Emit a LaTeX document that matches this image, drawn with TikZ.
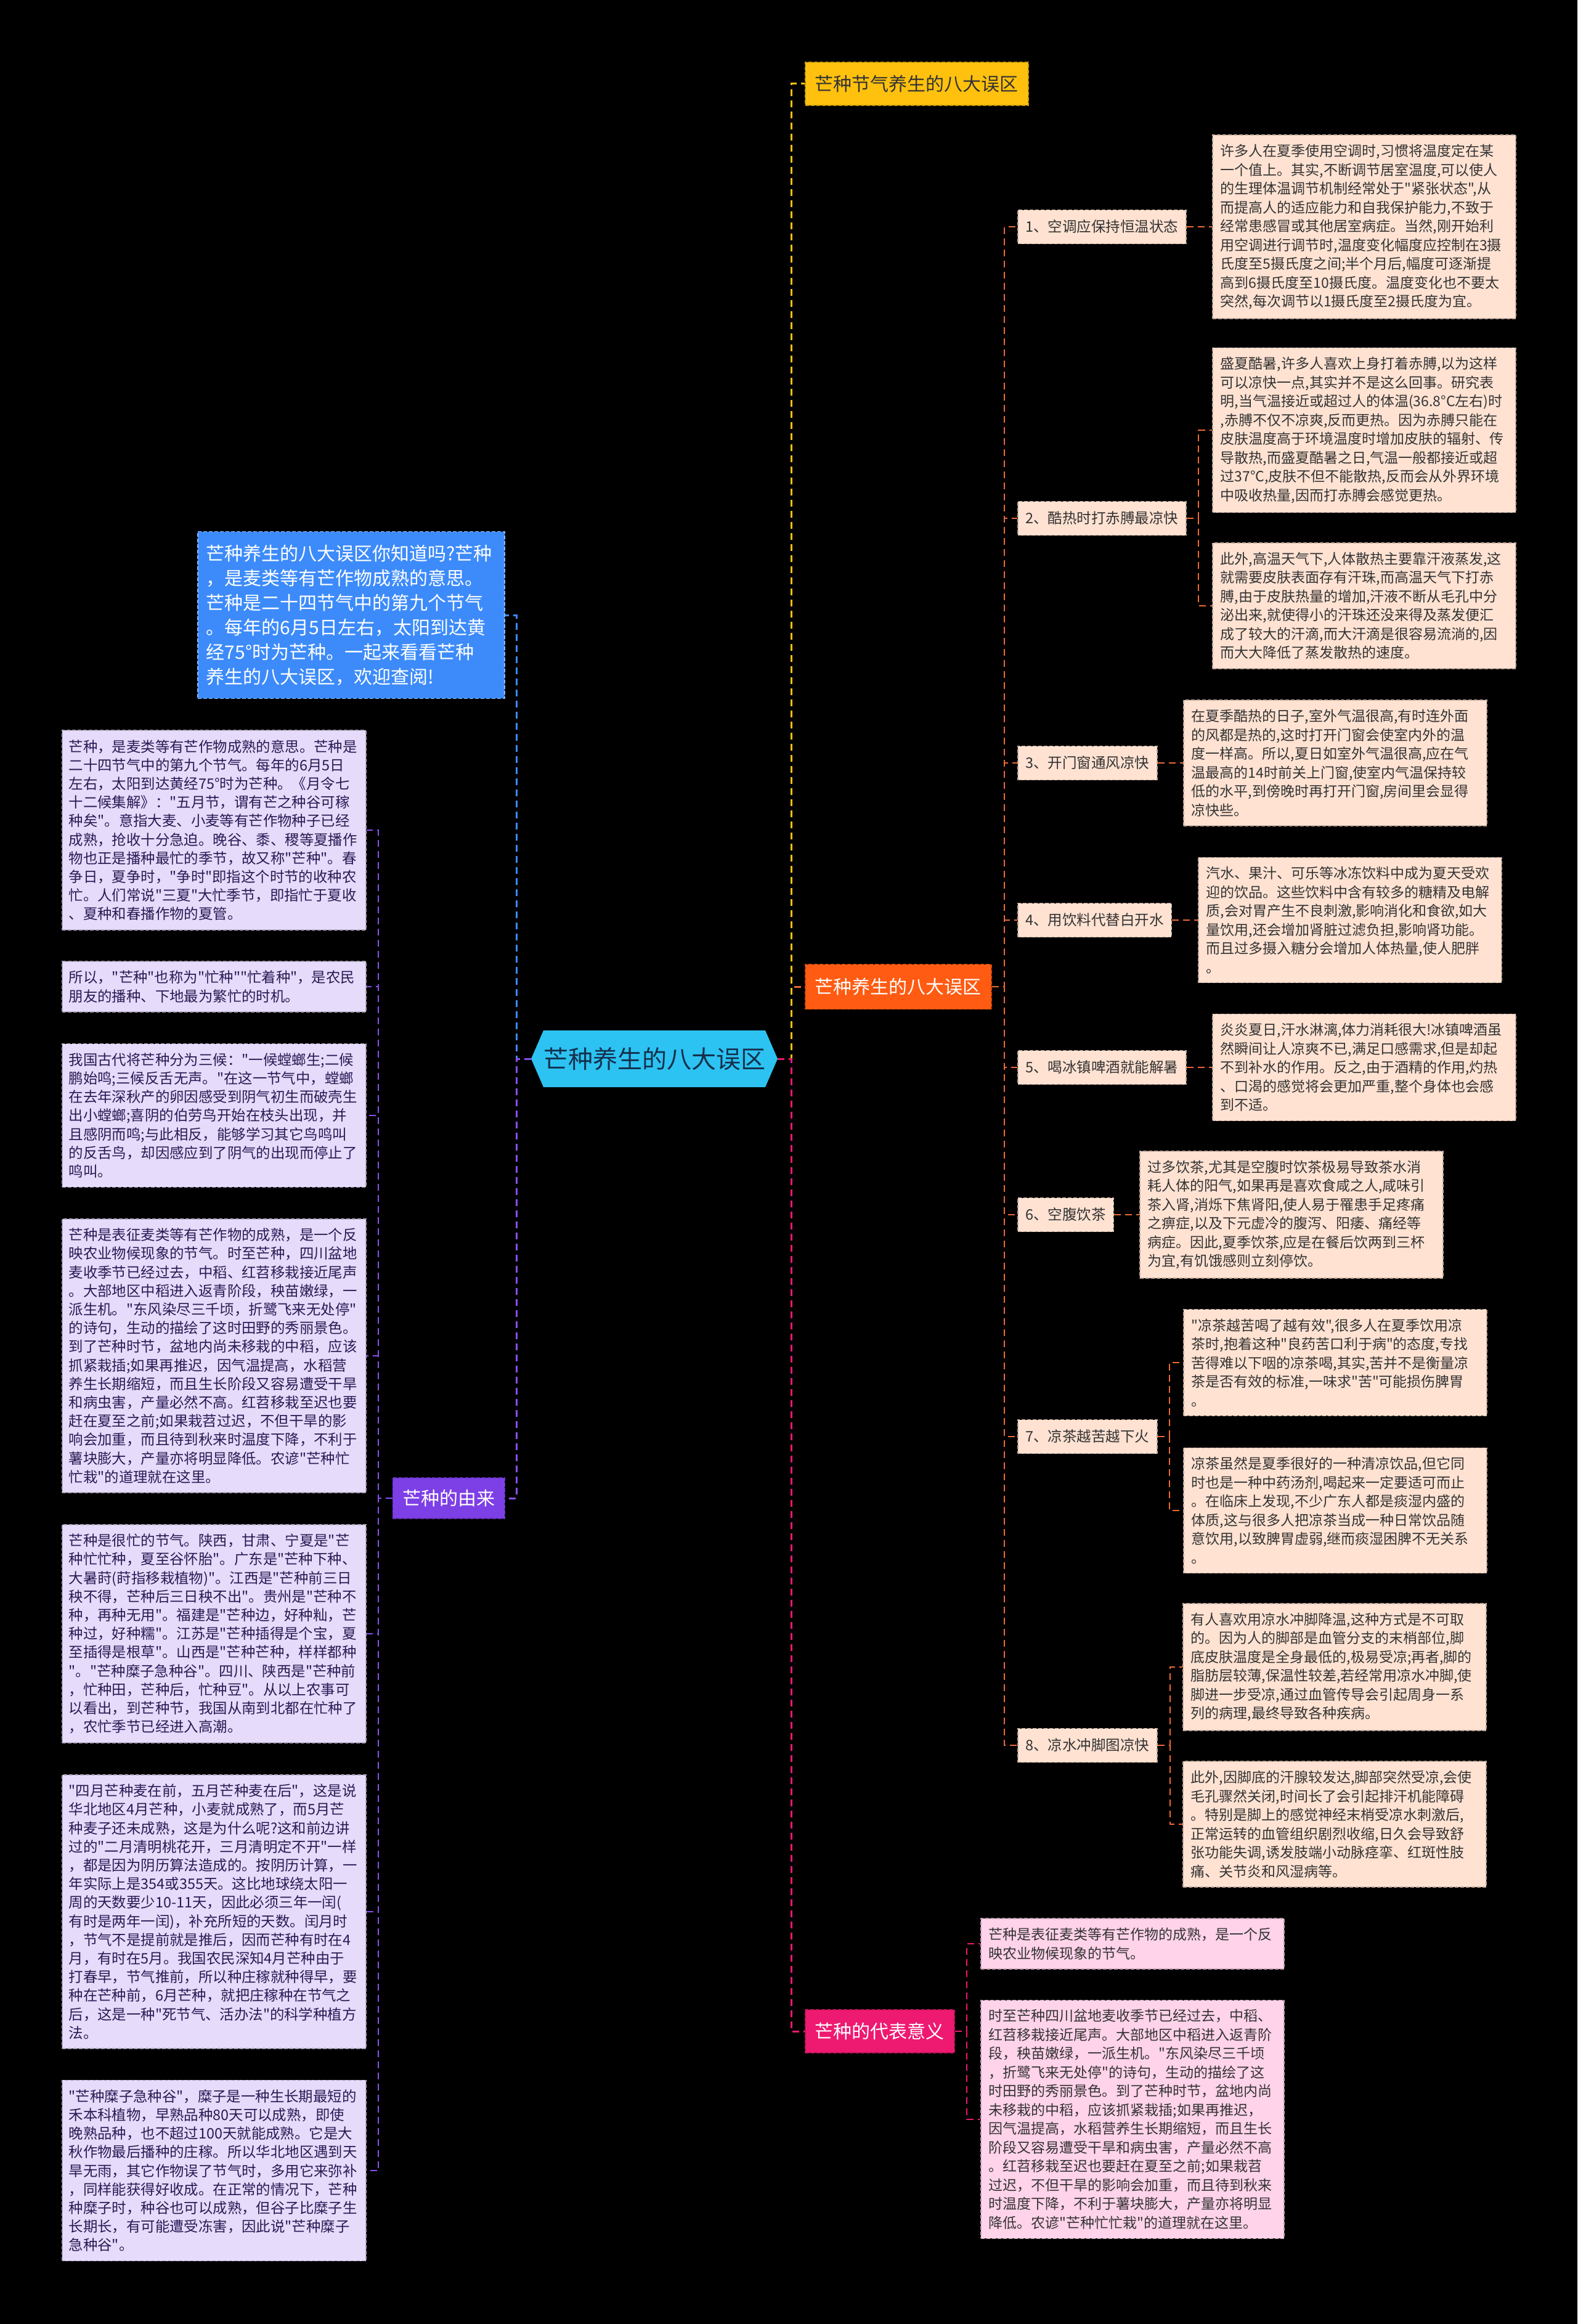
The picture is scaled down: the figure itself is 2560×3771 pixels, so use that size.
\documentclass[tikz,border=0pt]{standalone}
\usepackage{fontspec}
\setmainfont{Noto Sans CJK SC}[Ligatures=TeXOff]
\usetikzlibrary{calc}
\definecolor{bg}{HTML}{000000}
\definecolor{cyanc}{HTML}{2CC3F2}
\definecolor{ctext}{HTML}{14304D}
\definecolor{yel}{HTML}{FFC10E}
\definecolor{orn}{HTML}{FF5B12}
\definecolor{ornl}{HTML}{EE6A32}
\definecolor{pnk}{HTML}{EE1970}
\definecolor{pnkl}{HTML}{FFD3EA}
\definecolor{pch}{HTML}{FFE2D2}
\definecolor{lav}{HTML}{E6DBFA}
\definecolor{pur}{HTML}{7D3FE6}
\definecolor{purl}{HTML}{8A4FF0}
\definecolor{blu}{HTML}{3D8BFA}
\definecolor{rtext}{HTML}{333333}
\definecolor{ltext}{HTML}{2A1A55}
\tikzset{
  conn/.style={line width=3pt, dash pattern=on 11pt off 7pt},
  subconn/.style={line width=2.5pt, dash pattern=on 11pt off 7pt},
  boxborder/.style={line width=1.5pt, dash pattern=on 6pt off 3pt},
  mainnode/.style={anchor=west, inner xsep=16pt, inner ysep=0pt, minimum height=70pt, font=\fontsize{30}{36}\selectfont, boxborder},
  itembox/.style={anchor=west, fill=pch, draw=pch!75!black, boxborder, inner xsep=12.5pt, inner ysep=0pt, minimum height=55pt, text=rtext, font=\fontsize{23.5}{28}\selectfont},
  rdetail/.style={anchor=west, fill=pch, draw=pch!75!black, boxborder, text width=466pt, inner xsep=13pt, inner ysep=15pt, align=left, text=rtext, font=\fontsize{23}{30.5}\selectfont},
  pdetail/.style={rdetail, fill=pnkl, draw=pnkl!75!black},
  ldetail/.style={anchor=west, fill=lav, draw=lav!75!black, boxborder, text width=471pt, inner xsep=11pt, inner ysep=15pt, align=left, text=ltext, font=\fontsize{23.4}{30.2}\selectfont},
}
\begin{document}
\begin{tikzpicture}[x=1pt,y=-1pt]
\fill[bg] (0,0) rectangle (2560,3771);
\useasboundingbox (0,0) rectangle (2560,3771);

% ---------- center ----------
\fill[cyanc] (862,1718) -- (882,1672) -- (1242,1672) -- (1262,1718) -- (1242,1764) -- (882,1764) -- cycle;
\node[inner sep=0pt, minimum width=400pt, minimum height=92pt, text=ctext, font=\fontsize{40}{48}\selectfont] (center) at (1062,1718) {芒种养生的八大误区};

% ---------- main branches ----------
\node[mainnode, fill=yel, draw=yel!80!black, text=rtext] (hdr) at (1306,136) {芒种节气养生的八大误区};
\node[mainnode, fill=orn, draw=orn!80!black, text=white, minimum height=73pt] (orange) at (1306,1601) {芒种养生的八大误区};
\node[mainnode, fill=pnk, draw=pnk!80!black, text=white] (pinkn) at (1306,3296) {芒种的代表意义};
\node[mainnode, fill=pur, draw=pur!80!black, text=white, minimum height=66pt, anchor=east] (purn) at (820,2431) {芒种的由来};
\node[anchor=west, fill=blu, draw=blu!60!white, boxborder, text width=470pt, inner xsep=14pt, inner ysep=21pt, align=left, text=white, font=\fontsize{30}{40}\selectfont] (blue) at (320,998) {芒种养生的八大误区你知道吗?芒种\\，是麦类等有芒作物成熟的意思。\\芒种是二十四节气中的第九个节气\\。每年的6月5日左右，太阳到达黄\\经75°时为芒种。一起来看看芒种\\养生的八大误区，欢迎查阅!};

% ---------- items ----------
\node[itembox] (i1) at (1651,368) {1、空调应保持恒温状态};
\node[itembox] (i2) at (1651,841) {2、酷热时打赤膊最凉快};
\node[itembox] (i3) at (1651,1238) {3、开门窗通风凉快};
\node[itembox] (i4) at (1651,1493) {4、用饮料代替白开水};
\node[itembox] (i5) at (1651,1732) {5、喝冰镇啤酒就能解暑};
\node[itembox] (i6) at (1651,1971) {6、空腹饮茶};
\node[itembox] (i7) at (1651,2331) {7、凉茶越苦越下火};
\node[itembox] (i8) at (1651,2832) {8、凉水冲脚图凉快};

% ---------- right details ----------
\node[rdetail] (d1) at (1967,368) {许多人在夏季使用空调时,习惯将温度定在某\\一个值上。其实,不断调节居室温度,可以使人\\的生理体温调节机制经常处于"紧张状态",从\\而提高人的适应能力和自我保护能力,不致于\\经常患感冒或其他居室病症。当然,刚开始利\\用空调进行调节时,温度变化幅度应控制在3摄\\氏度至5摄氏度之间;半个月后,幅度可逐渐提\\高到6摄氏度至10摄氏度。温度变化也不要太\\突然,每次调节以1摄氏度至2摄氏度为宜。};
\node[rdetail] (d2a) at (1967,698) {盛夏酷暑,许多人喜欢上身打着赤膊,以为这样\\可以凉快一点,其实并不是这么回事。研究表\\明,当气温接近或超过人的体温(36.8°C左右)时\\,赤膊不仅不凉爽,反而更热。因为赤膊只能在\\皮肤温度高于环境温度时增加皮肤的辐射、传\\导散热,而盛夏酷暑之日,气温一般都接近或超\\过37°C,皮肤不但不能散热,反而会从外界环境\\中吸收热量,因而打赤膊会感觉更热。};
\node[rdetail] (d2b) at (1967,983) {此外,高温天气下,人体散热主要靠汗液蒸发,这\\就需要皮肤表面存有汗珠,而高温天气下打赤\\膊,由于皮肤热量的增加,汗液不断从毛孔中分\\泌出来,就使得小的汗珠还没来得及蒸发便汇\\成了较大的汗滴,而大汗滴是很容易流淌的,因\\而大大降低了蒸发散热的速度。};
\node[rdetail] (d3) at (1920,1238) {在夏季酷热的日子,室外气温很高,有时连外面\\的风都是热的,这时打开门窗会使室内外的温\\度一样高。所以,夏日如室外气温很高,应在气\\温最高的14时前关上门窗,使室内气温保持较\\低的水平,到傍晚时再打开门窗,房间里会显得\\凉快些。};
\node[rdetail] (d4) at (1944,1493) {汽水、果汁、可乐等冰冻饮料中成为夏天受欢\\迎的饮品。这些饮料中含有较多的糖精及电解\\质,会对胃产生不良刺激,影响消化和食欲,如大\\量饮用,还会增加肾脏过滤负担,影响肾功能。\\而且过多摄入糖分会增加人体热量,使人肥胖\\。};
\node[rdetail] (d5) at (1967,1732) {炎炎夏日,汗水淋漓,体力消耗很大!冰镇啤酒虽\\然瞬间让人凉爽不已,满足口感需求,但是却起\\不到补水的作用。反之,由于酒精的作用,灼热\\、口渴的感觉将会更加严重,整个身体也会感\\到不适。};
\node[rdetail] (d6) at (1849,1971) {过多饮茶,尤其是空腹时饮茶极易导致茶水消\\耗人体的阳气,如果再是喜欢食咸之人,咸味引\\茶入肾,消烁下焦肾阳,使人易于罹患手足疼痛\\之痹症,以及下元虚冷的腹泻、阳痿、痛经等\\病症。因此,夏季饮茶,应是在餐后饮两到三杯\\为宜,有饥饿感则立刻停饮。};
\node[rdetail] (d7a) at (1920,2211) {"凉茶越苦喝了越有效",很多人在夏季饮用凉\\茶时,抱着这种"良药苦口利于病"的态度,专找\\苦得难以下咽的凉茶喝,其实,苦并不是衡量凉\\茶是否有效的标准,一味求"苦"可能损伤脾胃\\。};
\node[rdetail] (d7b) at (1920,2451) {凉茶虽然是夏季很好的一种清凉饮品,但它同\\时也是一种中药汤剂,喝起来一定要适可而止\\。在临床上发现,不少广东人都是痰湿内盛的\\体质,这与很多人把凉茶当成一种日常饮品随\\意饮用,以致脾胃虚弱,继而痰湿困脾不无关系\\。};
\node[rdetail] (d8a) at (1919,2705) {有人喜欢用凉水冲脚降温,这种方式是不可取\\的。因为人的脚部是血管分支的末梢部位,脚\\底皮肤温度是全身最低的,极易受凉;再者,脚的\\脂肪层较薄,保温性较差,若经常用凉水冲脚,使\\脚进一步受凉,通过血管传导会引起周身一系\\列的病理,最终导致各种疾病。};
\node[rdetail] (d8b) at (1919,2960) {此外,因脚底的汗腺较发达,脚部突然受凉,会使\\毛孔骤然关闭,时间长了会引起排汗机能障碍\\。特别是脚上的感觉神经末梢受凉水刺激后,\\正常运转的血管组织剧烈收缩,日久会导致舒\\张功能失调,诱发肢端小动脉痉挛、红斑性肢\\痛、关节炎和风湿病等。};

% ---------- pink details ----------
\node[pdetail] (p1) at (1591,3154) {芒种是表征麦类等有芒作物的成熟，是一个反\\映农业物候现象的节气。};
\node[pdetail] (p2) at (1591,3439) {时至芒种四川盆地麦收季节已经过去，中稻、\\红苕移栽接近尾声。大部地区中稻进入返青阶\\段，秧苗嫩绿，一派生机。"东风染尽三千顷\\，折鹭飞来无处停"的诗句，生动的描绘了这\\时田野的秀丽景色。到了芒种时节，盆地内尚\\未移栽的中稻，应该抓紧栽插;如果再推迟，\\因气温提高，水稻营养生长期缩短，而且生长\\阶段又容易遭受干旱和病虫害，产量必然不高\\。红苕移栽至迟也要赶在夏至之前;如果栽苕\\过迟，不但干旱的影响会加重，而且待到秋来\\时温度下降，不利于薯块膨大，产量亦将明显\\降低。农谚"芒种忙忙栽"的道理就在这里。};

% ---------- left details ----------
\node[ldetail] (l1) at (100,1347) {芒种，是麦类等有芒作物成熟的意思。芒种是\\二十四节气中的第九个节气。每年的6月5日\\左右，太阳到达黄经75°时为芒种。《月令七\\十二候集解》："五月节，谓有芒之种谷可稼\\种矣"。意指大麦、小麦等有芒作物种子已经\\成熟，抢收十分急迫。晚谷、黍、稷等夏播作\\物也正是播种最忙的季节，故又称"芒种"。春\\争日，夏争时，"争时"即指这个时节的收种农\\忙。人们常说"三夏"大忙季节，即指忙于夏收\\、夏种和春播作物的夏管。};
\node[ldetail] (l2) at (100,1601) {所以，"芒种"也称为"忙种""忙着种"，是农民\\朋友的播种、下地最为繁忙的时机。};
\node[ldetail] (l3) at (100,1810) {我国古代将芒种分为三候："一候螳螂生;二候\\鹏始鸣;三候反舌无声。"在这一节气中，螳螂\\在去年深秋产的卵因感受到阴气初生而破壳生\\出小螳螂;喜阴的伯劳鸟开始在枝头出现，并\\且感阴而鸣;与此相反，能够学习其它鸟鸣叫\\的反舌鸟，却因感应到了阴气的出现而停止了\\鸣叫。};
\node[ldetail] (l4) at (100,2200) {芒种是表征麦类等有芒作物的成熟，是一个反\\映农业物候现象的节气。时至芒种，四川盆地\\麦收季节已经过去，中稻、红苕移栽接近尾声\\。大部地区中稻进入返青阶段，秧苗嫩绿，一\\派生机。"东风染尽三千顷，折鹭飞来无处停"\\的诗句，生动的描绘了这时田野的秀丽景色。\\到了芒种时节，盆地内尚未移栽的中稻，应该\\抓紧栽插;如果再推迟，因气温提高，水稻营\\养生长期缩短，而且生长阶段又容易遭受干旱\\和病虫害，产量必然不高。红苕移栽至迟也要\\赶在夏至之前;如果栽苕过迟，不但干旱的影\\响会加重，而且待到秋来时温度下降，不利于\\薯块膨大，产量亦将明显降低。农谚"芒种忙\\忙栽"的道理就在这里。};
\node[ldetail] (l5) at (100,2651) {芒种是很忙的节气。陕西，甘肃、宁夏是"芒\\种忙忙种，夏至谷怀胎"。广东是"芒种下种、\\大暑莳(莳指移栽植物)"。江西是"芒种前三日\\秧不得，芒种后三日秧不出"。贵州是"芒种不\\种，再种无用"。福建是"芒种边，好种籼，芒\\种过，好种糯"。江苏是"芒种插得是个宝，夏\\至插得是根草"。山西是"芒种芒种，样样都种\\"。"芒种糜子急种谷"。四川、陕西是"芒种前\\，忙种田，芒种后，忙种豆"。从以上农事可\\以看出，到芒种节，我国从南到北都在忙种了\\，农忙季节已经进入高潮。};
\node[ldetail] (l6) at (100,3102) {"四月芒种麦在前，五月芒种麦在后"，这是说\\华北地区4月芒种，小麦就成熟了，而5月芒\\种麦子还未成熟，这是为什么呢?这和前边讲\\过的"二月清明桃花开，三月清明定不开"一样\\，都是因为阴历算法造成的。按阴历计算，一\\年实际上是354或355天。这比地球绕太阳一\\周的天数要少10-11天，因此必须三年一闰(\\有时是两年一闰)，补充所短的天数。闰月时\\，节气不是提前就是推后，因而芒种有时在4\\月，有时在5月。我国农民深知4月芒种由于\\打春早，节气推前，所以种庄稼就种得早，要\\种在芒种前，6月芒种，就把庄稼种在节气之\\后，这是一种"死节气、活办法"的科学种植方\\法。};
\node[ldetail] (l7) at (100,3522) {"芒种糜子急种谷"，糜子是一种生长期最短的\\禾本科植物，早熟品种80天可以成熟，即使\\晚熟品种，也不超过100天就能成熟。它是大\\秋作物最后播种的庄稼。所以华北地区遇到天\\旱无雨，其它作物误了节气时，多用它来弥补\\，同样能获得好收成。在正常的情况下，芒种\\种糜子时，种谷也可以成熟，但谷子比糜子生\\长期长，有可能遭受冻害，因此说"芒种糜子\\急种谷"。};

% ---------- coordinates ----------
\coordinate (rt) at (1284,1718);
\coordinate (lt) at (838,1718);
\coordinate (ot) at (1630,1601);
\coordinate (s2) at (1945,841);
\coordinate (s7) at (1898,2331);
\coordinate (s8) at (1899,2832);
\coordinate (pt) at (1569,3296);
\coordinate (lpt) at (614,2431);

% ---------- connectors ----------
\draw[conn, ornl] (center.east) -- (rt) |- (orange.west);
\draw[conn, yel] (center.east) -- (rt) |- (hdr.west);
\draw[conn, pnk] (center.east) -- (rt) |- (pinkn.west);
\draw[conn, blu] (center.west) -- (lt) |- (blue.east);
\draw[conn, purl] (center.west) -- (lt) |- (purn.east);

\foreach \n in {i1,i2,i3,i4,i5,i6,i7,i8}
  \draw[subconn, ornl] (orange.east) -- (ot) |- (\n.west);
\draw[subconn, ornl] (i1.east) -- (d1.west);
\draw[subconn, ornl] (i2.east) -- (s2) |- (d2a.west);
\draw[subconn, ornl] (i2.east) -- (s2) |- (d2b.west);
\draw[subconn, ornl] (i3.east) -- (d3.west);
\draw[subconn, ornl] (i4.east) -- (d4.west);
\draw[subconn, ornl] (i5.east) -- (d5.west);
\draw[subconn, ornl] (i6.east) -- (d6.west);
\draw[subconn, ornl] (i7.east) -- (s7) |- (d7a.west);
\draw[subconn, ornl] (i7.east) -- (s7) |- (d7b.west);
\draw[subconn, ornl] (i8.east) -- (s8) |- (d8a.west);
\draw[subconn, ornl] (i8.east) -- (s8) |- (d8b.west);

\draw[subconn, pnk] (pinkn.east) -- (pt) |- (p1.west);
\draw[subconn, pnk] (pinkn.east) -- (pt) |- (p2.west);

\foreach \n in {l1,l2,l3,l4,l5,l6,l7}
  \draw[subconn, purl] (purn.west) -- (lpt) |- (\n.east);
\end{tikzpicture}
\end{document}
